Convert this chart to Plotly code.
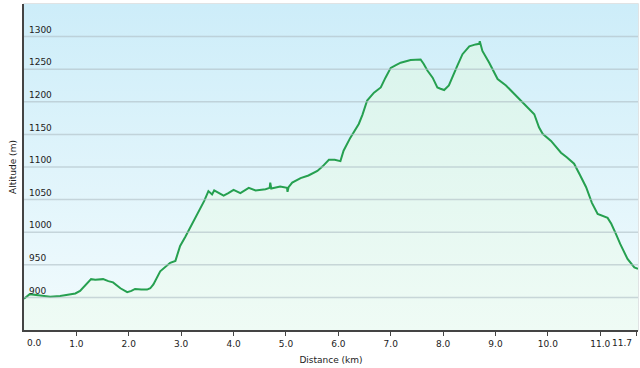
import plotly.graph_objects as go

# Elevation profile
distance_km = [0.00, 0.06, 0.11, 0.31, 0.50, 0.69, 0.98, 1.07, 1.13, 1.20, 1.28, 1.36, 1.51, 1.61, 1.70,
               1.84, 1.97, 2.05, 2.12, 2.24, 2.35, 2.41, 2.47, 2.60, 2.70, 2.79, 2.89, 2.98, 3.08, 3.17,
               3.27, 3.37, 3.44, 3.52, 3.59, 3.63, 3.81, 3.90, 4.00, 4.13, 4.29, 4.42, 4.61, 4.69, 4.70,
               4.72, 4.89, 5.02, 5.03, 5.05, 5.12, 5.28, 5.43, 5.60, 5.70, 5.82, 5.93, 6.04, 6.10, 6.23,
               6.39, 6.46, 6.55, 6.68, 6.81, 6.90, 7.00, 7.09, 7.19, 7.38, 7.57, 7.63, 7.70, 7.80, 7.89,
               7.95, 8.02, 8.11, 8.18, 8.27, 8.37, 8.50, 8.62, 8.69, 8.70, 8.75, 8.88, 9.04, 9.20, 9.42,
               9.55, 9.74, 9.83, 9.90, 10.06, 10.25, 10.36, 10.50, 10.61, 10.73, 10.84, 10.95, 11.14,
               11.21, 11.30, 11.38, 11.52, 11.65, 11.72]
altitude_m = [898, 902, 905, 903, 901, 902, 906, 910, 915, 922, 928, 927, 928, 925, 923,
              914, 908, 910, 913, 912, 912, 914, 920, 940, 947, 953, 956, 979, 993, 1007,
              1022, 1038, 1048, 1063, 1058, 1064, 1056, 1060, 1065, 1060, 1068, 1064, 1066, 1068, 1076,
              1067, 1070, 1068, 1062, 1069, 1076, 1083, 1087, 1094, 1101, 1111, 1111, 1109, 1125, 1145,
              1166, 1180, 1202, 1214, 1222, 1237, 1252, 1256, 1260, 1264, 1265, 1258, 1248, 1237, 1222,
              1220, 1218, 1225, 1237, 1255, 1273, 1285, 1288, 1289, 1293, 1278, 1260, 1235, 1225, 1207,
              1197, 1181, 1161, 1151, 1140, 1122, 1115, 1105, 1088, 1069, 1045, 1028, 1022,
              1013, 997, 982, 959, 946, 944]

y_ticks = [900, 950, 1000, 1050, 1100, 1150, 1200, 1250, 1300]
x_ticks = [0, 1, 2, 3, 4, 5, 6, 7, 8, 9, 10, 11, 11.7]
x_tick_labels = ["0.0", "1.0", "2.0", "3.0", "4.0", "5.0", "6.0", "7.0", "8.0", "9.0", "10.0", "11.0", "11.7"]

X_RANGE = [0, 11.72]
Y_RANGE = [850, 1350]
FONT = dict(family="DejaVu Sans", size=9, color="#222222")

fig = go.Figure()

# background gradient of plot area
fig.add_trace(go.Scatter(
    x=X_RANGE, y=[Y_RANGE[1], Y_RANGE[1]], mode="none", fill="tozeroy",
    fillgradient=dict(type="vertical", start=Y_RANGE[0], stop=Y_RANGE[1],
                      colorscale=[[0, "#f2fbfd"], [1, "#cdedf9"]]),
    hoverinfo="skip", showlegend=False))

# area under profile
fig.add_trace(go.Scatter(
    x=distance_km, y=altitude_m, mode="none", fill="tozeroy",
    fillgradient=dict(type="vertical", start=Y_RANGE[0], stop=1300,
                      colorscale=[[0, "#effbf5"], [1, "#d9f4ec"]]),
    hoverinfo="skip", showlegend=False))

# gridlines drawn from the tick values
for v in y_ticks:
    fig.add_shape(type="line", xref="paper", x0=0, x1=1, yref="y", y0=v, y1=v,
                  line=dict(color="rgba(175,190,197,0.6)", width=1.5), layer="above")

# profile line
fig.add_trace(go.Scatter(
    x=distance_km, y=altitude_m, mode="lines",
    line=dict(color="#26a050", width=2), showlegend=False))

# light border on top/right
fig.add_shape(type="rect", xref="paper", yref="paper", x0=0, x1=1, y0=0, y1=1,
              line=dict(color="#d6dadc", width=1.5), layer="below")

# first and last x tick labels are drawn inward of their ticks (as in the reference)
axis_labels = list(x_tick_labels)
axis_labels[0] = ""
axis_labels[-1] = ""
fig.add_annotation(x=x_ticks[0], xref="x", y=0, yref="paper", text=x_tick_labels[0],
                   showarrow=False, xanchor="left", yanchor="middle", xshift=1, yshift=-13, font=FONT)
fig.add_annotation(x=x_ticks[-1], xref="x", y=0, yref="paper", text=x_tick_labels[-1],
                   showarrow=False, xanchor="right", yanchor="middle", xshift=-3, yshift=-13, font=FONT)

fig.update_layout(
    width=640, height=368,
    margin=dict(l=24, r=2, t=4, b=38, autoexpand=False),
    paper_bgcolor="white", plot_bgcolor="white",
    font=FONT,
    showlegend=False,
    xaxis=dict(range=X_RANGE, tickvals=x_ticks, ticktext=axis_labels, automargin=False,
               showgrid=False, zeroline=False, showline=True, linecolor="#444444", linewidth=1.5,
               ticks="outside", ticklen=4, tickcolor="#444444", tickfont=FONT,
               ticklabeloverflow="allow",
               title=dict(text="Distance (km)", font=FONT, standoff=9)),
    yaxis=dict(range=Y_RANGE, tickvals=y_ticks, showgrid=False, zeroline=False, automargin=False,
               showline=True, linecolor="#444444", linewidth=1.5, ticks="",
               ticklabelposition="inside", ticklabelshift=-7, ticklabelstandoff=4,
               tickfont=FONT,
               title=dict(text="Altitude (m)", font=FONT, standoff=11)),
)

fig.write_html("out.html", config={"displayModeBar": False},
               post_script="document.body.style.margin='0';")
